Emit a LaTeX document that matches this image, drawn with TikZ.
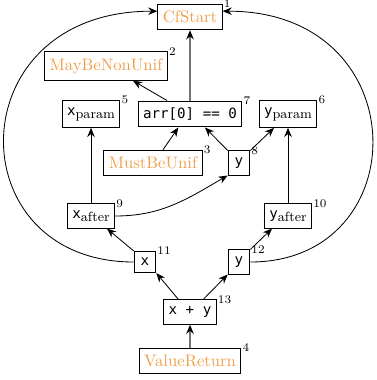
\documentclass[tikz,border=0pt]{standalone}
\usepackage{fontspec}
\setmonofont{DejaVu Sans Mono}[Scale=0.85]
\usepackage{tikz}
\usetikzlibrary{arrows.meta}
\usetikzlibrary{positioning}
\definecolor{termorange}{RGB}{240,158,74}
\newcommand{\psub}[1]{\raisebox{-1.8pt}{\rmfamily\footnotesize #1}}

\tikzset{
	instr/.style={draw, rectangle, line width=0.6pt, inner xsep=3pt, inner ysep=4pt, minimum width=13pt, font=\ttfamily},
	term/.style={instr, font=\rmfamily, text=termorange},
	idx/.style={font=\rmfamily\scriptsize, text=black, inner sep=0.5pt, anchor=west},
	dep/.style={-{Stealth[length=5.5pt,width=4.5pt]}, line width=0.5pt},
	ctrl/.style={-{Stealth[length=5.5pt,width=4.5pt,color=black]}, line width=1.2pt, draw=black!55},
}

\begin{document}
\begin{tikzpicture}[on grid]
	\useasboundingbox (-114pt,-217.8pt) rectangle (112.2pt,10.2pt);
	\node[term, label={[idx]north east:1}] (cfstart) {CfStart};
	\node[term, label={[idx]north east:2}] (maybenonunif) [below left=29.4pt and 50.4pt of cfstart] {MayBeNonUnif};
	\node[instr, label={[idx]north east:7}] (cmp) [below=58.2pt of cfstart] {arr[0] == 0};
	\node[instr, label={[idx]north east:5}] (xparam) [left=59.4pt of cmp] {x\psub{param}};
	\node[instr, label={[idx]north east:6}] (yparam) [right=58.8pt of cmp] {y\psub{param}};
	\node[term, label={[idx]north east:3}] (mustbeunif) [below left=29.4pt and 22.2pt of cmp] {MustBeUnif};
	\node[instr, label={[idx]north east:8}] (yeight) [below right=29.4pt and 29.4pt of cmp] {y};
	\node[instr, label={[idx]north east:9}] (xafter) [below=61.2pt of xparam] {x\psub{after}};
	\node[instr, label={[idx]north east:10}] (yafter) [below=61.2pt of yparam] {y\psub{after}};
	\node[instr, label={[idx]north east:13}] (xplusy) [below=118.8pt of cmp] {x + y};
	\node[instr, label={[idx]north east:11}] (xeleven) [above left=30pt and 27pt of xplusy] {x};
	\node[instr, label={[idx]north east:12}] (yeleven) [above right=30pt and 29.4pt of xplusy] {y};
	\node[term, label={[idx]north east:4}] (valuereturn) [below=29.4pt of xplusy] {ValueReturn};

	\draw[ctrl] (cmp) -- (cfstart);
	\draw[dep] ([xshift=-13.8pt]cmp.north) -- ([xshift=16.2pt]maybenonunif.south);
	\draw[dep] ([xshift=6pt]mustbeunif.north) -- ([xshift=-7pt]cmp.south);
	\draw[dep] (yeight.north west) -- ([xshift=9pt]cmp.south);
	\draw[dep] (yeight.north east) -- ([xshift=-8.4pt]yparam.south);
	\draw[dep] (xafter) -- (xparam);
	\draw[dep] (yafter) -- (yparam);
	\draw[dep] (xafter.east) to[out=0, in=210] (yeight.south west);
	\draw[dep] (xeleven.north west) -- ([xshift=9.6pt]xafter.south);
	\draw[dep] (yeleven.north east) -- ([xshift=-9.6pt]yafter.south);
	\draw[dep] ([xshift=-7pt]xplusy.north) -- (xeleven.south east);
	\draw[dep] ([xshift=8pt]xplusy.north) -- (yeleven.south west);
	\draw[ctrl] (valuereturn) -- (xplusy);
	% back edges to the start
	\draw[dep] (xeleven.west) .. controls +(-106pt,0) and +(-120pt,0) .. ([yshift=3.5pt]cfstart.west);
	\draw[dep] (yeleven.east) .. controls +(100pt,0) and +(117pt,0) .. ([yshift=3.5pt]cfstart.east);
\end{tikzpicture}
\end{document}
